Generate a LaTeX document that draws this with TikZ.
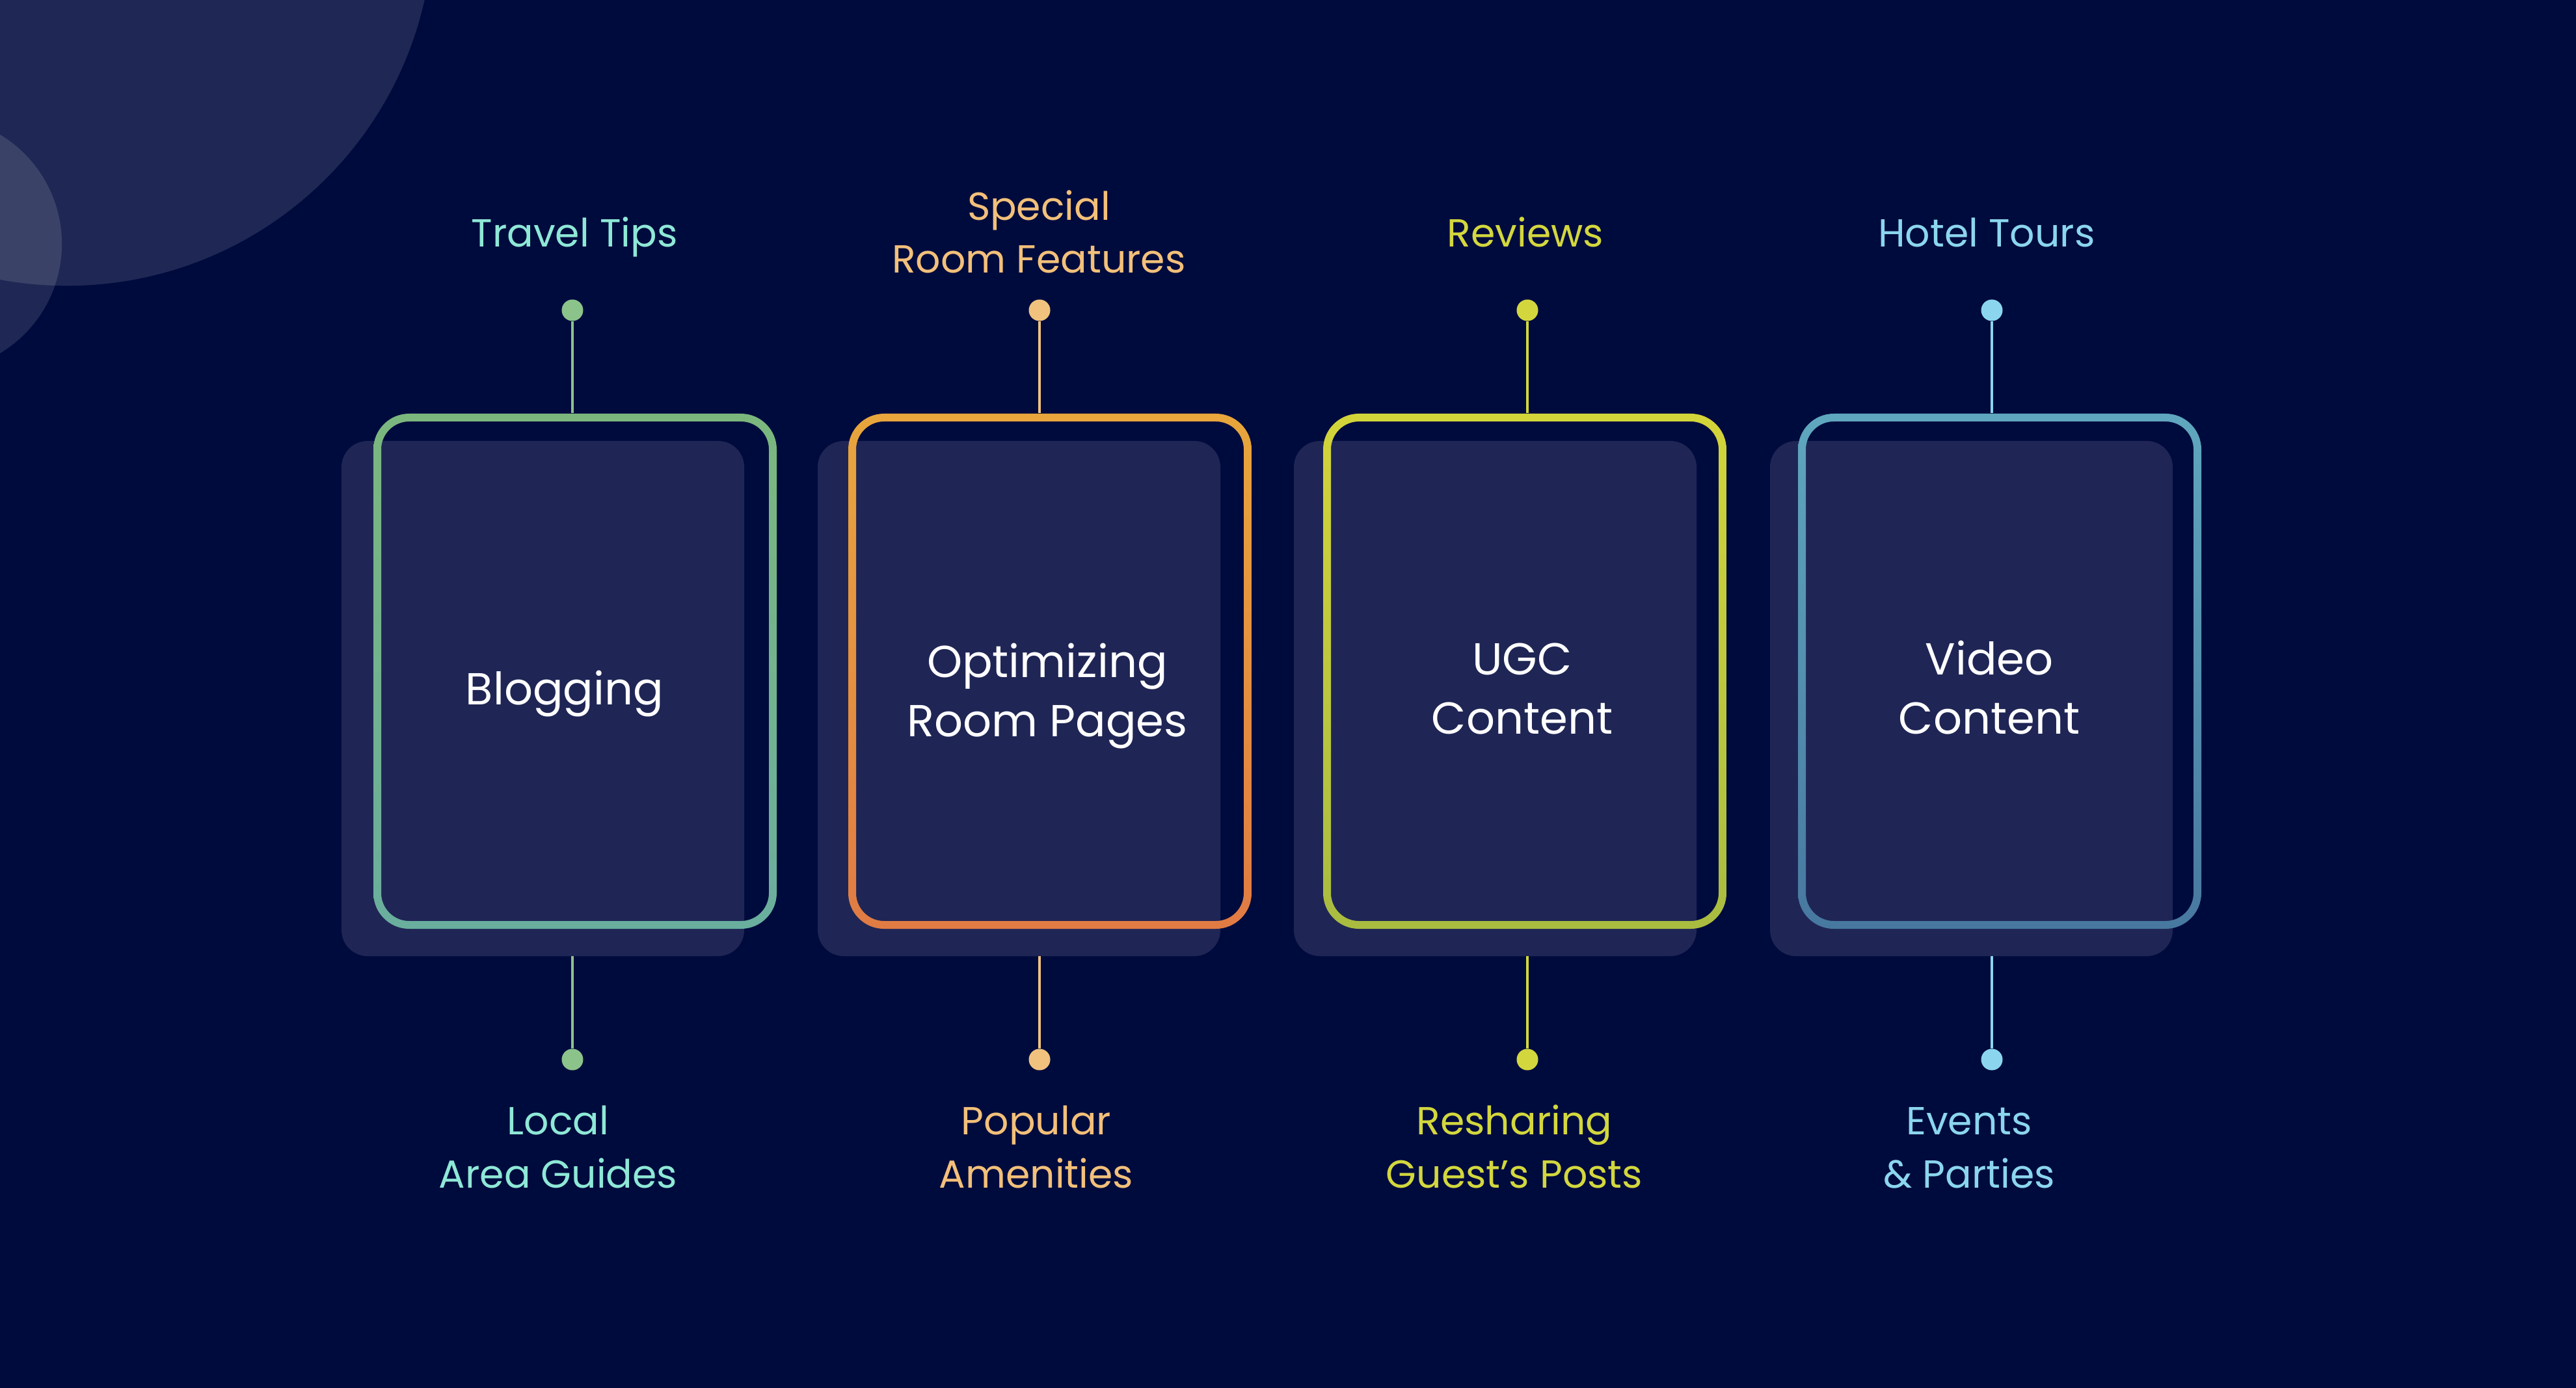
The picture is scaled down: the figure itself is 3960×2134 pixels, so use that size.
\documentclass[tikz,border=0pt]{standalone}
\usepackage{fontspec}
\setmainfont{Poppins}
\definecolor{bg}{HTML}{000B3D}
\definecolor{shadowc}{HTML}{1F2655}
\definecolor{aTop}{HTML}{7BB77D}\definecolor{aBot}{HTML}{6AAE9E}
\definecolor{aDot}{HTML}{8CC38A}\definecolor{aTxt}{HTML}{8EE8D6}
\definecolor{bTop}{HTML}{E8A63C}\definecolor{bBot}{HTML}{E07B44}
\definecolor{bDot}{HTML}{F0C27D}\definecolor{bTxt}{HTML}{F3C07A}
\definecolor{cTop}{HTML}{D3D43A}\definecolor{cBot}{HTML}{A9BC40}
\definecolor{cDot}{HTML}{D3D63D}\definecolor{cTxt}{HTML}{D3D73D}
\definecolor{dTop}{HTML}{5FA7BE}\definecolor{dBot}{HTML}{4878A0}
\definecolor{dDot}{HTML}{8BD6EE}\definecolor{dTxt}{HTML}{8BD6EE}
\begin{document}
\begin{tikzpicture}[x=0.01cm,y=-0.01cm,
  dotnode/.style={circle,inner sep=0pt,minimum size=0.33cm},
  lbl/.style={align=center,inner sep=0pt,anchor=base,font=\fontsize{17.1}{23.3}\selectfont},
  mainlbl/.style={align=center,inner sep=0pt,anchor=base,text=white,font=\fontsize{19.6}{25.8}\selectfont},
  conn/.style={line width=0.04cm},
  shadowbox/.style={fill=shadowc,rounded corners=0.4cm},
  boxnode/.style={rectangle,inner sep=0pt,minimum width=6.2cm,minimum height=7.92cm}]
\useasboundingbox (0,0) rectangle (3960,2134);
\fill[bg] (0,0) rectangle (3960,2134);
% decorative circles
\fill[white,opacity=0.12] (103,-124) circle[radius=5.63cm];
\fill[white,opacity=0.12] (-101,375) circle[radius=1.96cm];
% shadow boxes
\foreach \i in {0,1,2,3}{
  \fill[shadowbox] (525+732*\i,678) rectangle (1144+732*\i,1470);
}
% outline boxes (named nodes) and gradient rings
\foreach \i/\ct/\cb in {0/aTop/aBot,1/bTop/bBot,2/cTop/cBot,3/dTop/dBot}{
  \shade[top color=\ct,bottom color=\cb,even odd rule,rounded corners=0.55cm]
    (574+730*\i,636) rectangle (1194+730*\i,1428)
    [rounded corners=0.43cm] (586+730*\i,648) rectangle (1182+730*\i,1416);
}
\node[boxnode] (b1) at (884,1032) {};
\node[boxnode] (b2) at (1614,1032) {};
\node[boxnode] (b3) at (2344,1032) {};
\node[boxnode] (b4) at (3074,1032) {};
\coordinate (s1) at (880,1470);
\coordinate (s2) at (1598,1470);
\coordinate (s3) at (2348,1470);
\coordinate (s4) at (3062,1470);
% dots
\node[dotnode,fill=aDot] (t1) at (880,477) {};
\node[dotnode,fill=bDot] (t2) at (1598,477) {};
\node[dotnode,fill=cDot] (t3) at (2348,477) {};
\node[dotnode,fill=dDot] (t4) at (3062,477) {};
\node[dotnode,fill=aDot] (u1) at (880,1629) {};
\node[dotnode,fill=bDot] (u2) at (1598,1629) {};
\node[dotnode,fill=cDot] (u3) at (2348,1629) {};
\node[dotnode,fill=dDot] (u4) at (3062,1629) {};
% connectors
\draw[conn,aDot] (t1) -- (t1 |- b1.north);
\draw[conn,bDot] (t2) -- (t2 |- b2.north);
\draw[conn,cDot] (t3) -- (t3 |- b3.north);
\draw[conn,dDot] (t4) -- (t4 |- b4.north);
\draw[conn,aDot] (s1) -- (u1);
\draw[conn,bDot] (s2) -- (u2);
\draw[conn,cDot] (s3) -- (u3);
\draw[conn,dDot] (s4) -- (u4);
% top labels (anchor base = last line baseline)
\node[lbl,text=aTxt] (l1) at (883,380) {Travel Tips};
\node[lbl,text=bTxt] (l2) at (1597,420) {Special\\Room Features};
\node[lbl,text=cTxt] (l3) at (2345,380) {Reviews};
\node[lbl,text=dTxt] (l4) at (3054,380) {Hotel Tours};
% bottom labels
\node[lbl,text=aTxt] (m1) at (858,1826) {Local\\Area Guides};
\node[lbl,text=bTxt] (m2) at (1593,1826) {Popular\\Amenities};
\node[lbl,text=cTxt] (m3) at (2328,1826) {Resharing\\Guest’s Posts};
\node[lbl,text=dTxt] (m4) at (3027,1826) {Events\\\& Parties};
% main texts
\node[mainlbl] (x1) at (868,1083) {Blogging};
\node[mainlbl] (x2) at (1610,1132) {Optimizing\\Room Pages};
\node[mainlbl] (x3) at (2340,1128) {UGC\\Content};
\node[mainlbl] (x4) at (3058,1128) {Video\\Content};
\end{tikzpicture}
\end{document}
